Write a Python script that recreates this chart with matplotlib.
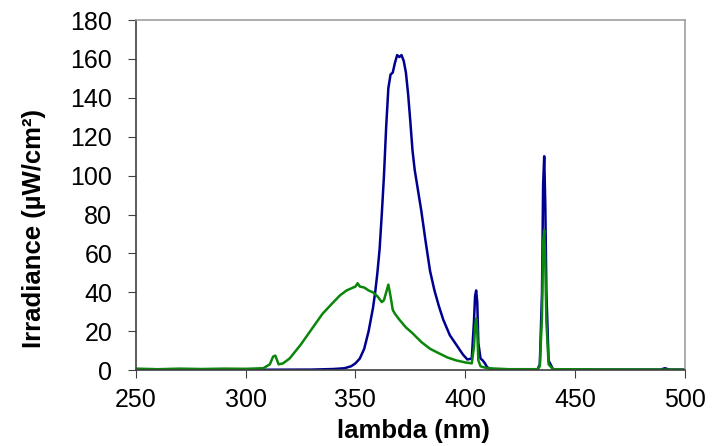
import numpy as np
import matplotlib.pyplot as plt

plt.rcParams['font.family'] = ['Liberation Sans', 'DejaVu Sans']

# blue lamp spectrum
lam_blue = [250, 300, 330, 340, 345, 348, 350, 352, 354, 356, 358, 359, 360, 361, 362,
            363, 364, 365, 366, 367, 368, 369, 370, 371, 372, 373, 374, 375, 376, 377,
            378, 380, 382, 384, 386, 388, 390, 393, 396, 399, 401, 403, 404, 404.5,
            405, 405.5, 406, 407, 408, 409, 410, 412, 420, 430, 433, 434, 435, 435.5,
            436, 436.5, 437, 438, 440, 450, 480, 489, 491, 493, 500]
irr_blue = [0.3, 0.2, 0.3, 0.6, 1.0, 2.0, 3.5, 6, 11, 20, 32, 40, 50, 62, 80,
            100, 125, 145, 152, 153, 158, 162, 161, 162, 159, 153, 142, 128, 113, 103,
            96, 82, 66, 51, 41, 33, 26, 18, 13, 8, 5.5, 6, 25, 38,
            41, 35, 14, 6, 5, 3.5, 1.5, 0.5, 0.3, 0.3, 0.5, 3, 40, 95,
            110, 85, 40, 5, 0.5, 0.3, 0.3, 0.3, 1.0, 0.3, 0.3]

# green lamp spectrum
lam_green = [250, 260, 270, 280, 290, 300, 308, 311, 312.5, 313.5, 315, 317, 320, 325,
             330, 335, 340, 343, 346, 348, 350, 351, 352, 354, 356, 358, 360, 362, 363,
             364, 365, 366, 367, 368, 370, 373, 376, 380, 384, 388, 392, 396, 400, 403,
             404, 404.5, 405, 405.5, 406, 407, 410, 420, 433, 434, 435, 435.5, 436,
             436.5, 437, 438, 440, 460, 500]
irr_green = [0.8, 0.5, 0.8, 0.6, 0.8, 0.7, 1.0, 3, 7, 7.5, 3, 3.5, 6, 13,
             21, 29, 35, 38.5, 41, 42, 43, 44.7, 43, 42.5, 41, 40, 38, 35, 36,
             40, 44, 38, 31, 29, 26, 22, 19, 14.5, 11, 8.7, 6.5, 5, 4, 3.5,
             12, 22, 26.5, 20, 5, 2, 1, 0.5, 0.5, 2, 28, 65, 72,
             55, 25, 3, 0.5, 0.4, 0.3]

fig = plt.figure(figsize=(7.23, 4.46), dpi=100)
ax = fig.add_axes([0.188, 0.170, 0.759, 0.785])

ax.plot(lam_blue, irr_blue, color='#000090', lw=1.8)
ax.plot(lam_green, irr_green, color='#0a860a', lw=1.8)

ax.set_xlim(250, 500)
ax.set_ylim(0, 180)
ax.set_xticks(np.arange(250, 501, 50))
ax.set_yticks(np.arange(0, 181, 20))
ax.tick_params(labelsize=18, direction='out', length=6, color='#404040')
ax.tick_params(axis='y', pad=11)
ax.tick_params(axis='x', pad=7)
ax.tick_params(top=False, right=False)

ax.spines['left'].set_color('#404040')
ax.spines['bottom'].set_color('#404040')
ax.spines['top'].set_color('#a0a0a0')
ax.spines['right'].set_color('#a0a0a0')
for s in ax.spines.values():
    s.set_linewidth(1.2)

ax.set_xlabel("lambda (nm)", fontsize=18.5, fontweight='bold')
ax.set_ylabel("Irradiance (\u00b5W/cm\u00b2)", fontsize=18.5, fontweight='bold')
ax.xaxis.set_label_coords(0.505, -0.14)
ax.yaxis.set_label_coords(-0.164, 0.406)

plt.savefig("out.png")
